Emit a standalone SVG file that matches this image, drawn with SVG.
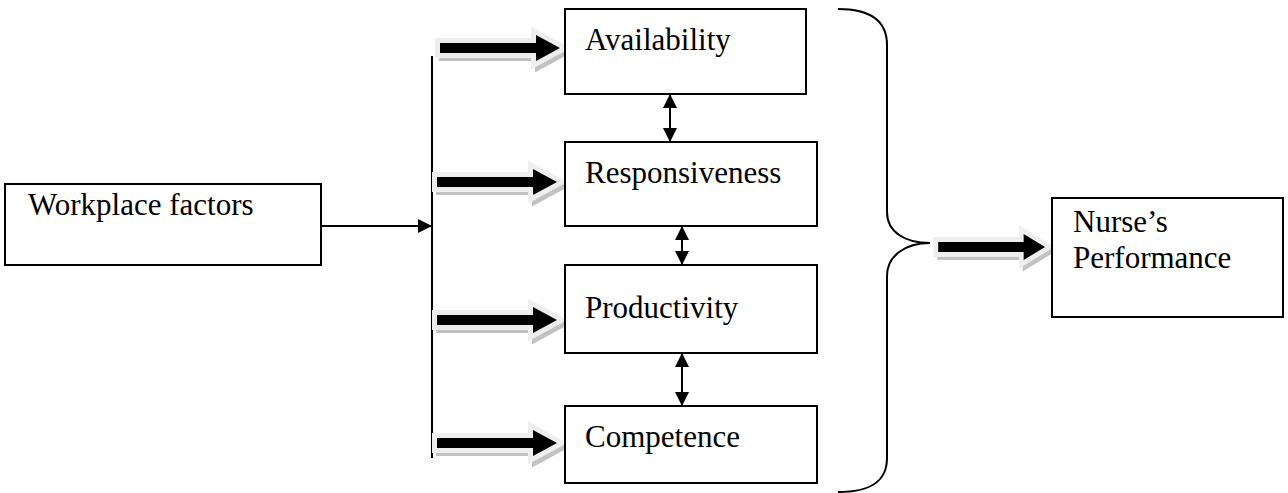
<svg xmlns="http://www.w3.org/2000/svg" width="1288" height="493" viewBox="0 0 1288 493">
<style>
.box{fill:#fff;stroke:#000;stroke-width:2}
.t{font-size:31px;fill:#000}
.ln{fill:none;stroke:#000;stroke-width:2}
.bo{fill:#eeeeee;stroke:#eeeeee;stroke-width:10;stroke-linejoin:miter;stroke-miterlimit:10}
.bs{fill:#c2c2c2;stroke:#c2c2c2;stroke-width:10;stroke-linejoin:miter;stroke-miterlimit:10}
.bi{fill:#000}
</style>
<defs>
<marker id="ah" viewBox="0 0 14 14" refX="14" refY="7" markerWidth="14" markerHeight="14" markerUnits="userSpaceOnUse" orient="auto-start-reverse">
<path d="M0,0 L14,7 L0,14 Z" fill="#000"/>
</marker>
<polygon id="ashape" points="-120,-5 -24,-5 -24,-13 0,0 -24,13 -24,5 -120,5"/>
<g id="barrow">
<use href="#ashape" class="bs" transform="translate(4,3)"/>
<use href="#ashape" class="bo"/>
<use href="#ashape" class="bi"/>
</g>
</defs>
<g id="connectors">
<line class="ln" x1="432" y1="56" x2="432" y2="458"/>
<line class="ln" x1="321" y1="226" x2="432" y2="226" marker-end="url(#ah)"/>
<line class="ln" x1="670" y1="94" x2="670" y2="142" marker-start="url(#ah)" marker-end="url(#ah)"/>
<line class="ln" x1="682" y1="226" x2="682" y2="265" marker-start="url(#ah)" marker-end="url(#ah)"/>
<line class="ln" x1="682" y1="353" x2="682" y2="406" marker-start="url(#ah)" marker-end="url(#ah)"/>
<path class="ln" d="M838,9 C870,9 887,20 887,45 L887,212 C887,232 905,243 930,243 C905,243 887,256 887,276 L887,458 C887,482 870,492 838,492"/>
<use href="#barrow" transform="translate(560,48)"/>
<use href="#barrow" transform="translate(557,182)"/>
<use href="#barrow" transform="translate(557,320)"/>
<use href="#barrow" transform="translate(557,443)"/>
<use href="#barrow" transform="translate(1045,247) scale(0.89,1)"/>
</g>
<g id="workplace" font-family="'Liberation Serif', 'DejaVu Serif', serif">
<rect class="box" x="5" y="184" width="316" height="81"/>
<text class="t" x="28" y="215">Workplace factors</text>
</g>
<g id="availability" font-family="'Liberation Serif', 'DejaVu Serif', serif">
<rect class="box" x="565" y="9" width="241" height="85"/>
<text class="t" x="585" y="50">Availability</text>
</g>
<g id="responsiveness" font-family="'Liberation Serif', 'DejaVu Serif', serif">
<rect class="box" x="565" y="142" width="252" height="84"/>
<text class="t" x="585" y="183">Responsiveness</text>
</g>
<g id="productivity" font-family="'Liberation Serif', 'DejaVu Serif', serif">
<rect class="box" x="565" y="265" width="252" height="88"/>
<text class="t" x="585" y="318">Productivity</text>
</g>
<g id="competence" font-family="'Liberation Serif', 'DejaVu Serif', serif">
<rect class="box" x="565" y="406" width="252" height="77"/>
<text class="t" x="585" y="447">Competence</text>
</g>
<g id="nurse" font-family="'Liberation Serif', 'DejaVu Serif', serif">
<rect class="box" x="1052" y="198" width="231" height="119"/>
<text class="t" x="1073" y="232">Nurse’s</text>
<text class="t" x="1073" y="268">Performance</text>
</g>
</svg>
